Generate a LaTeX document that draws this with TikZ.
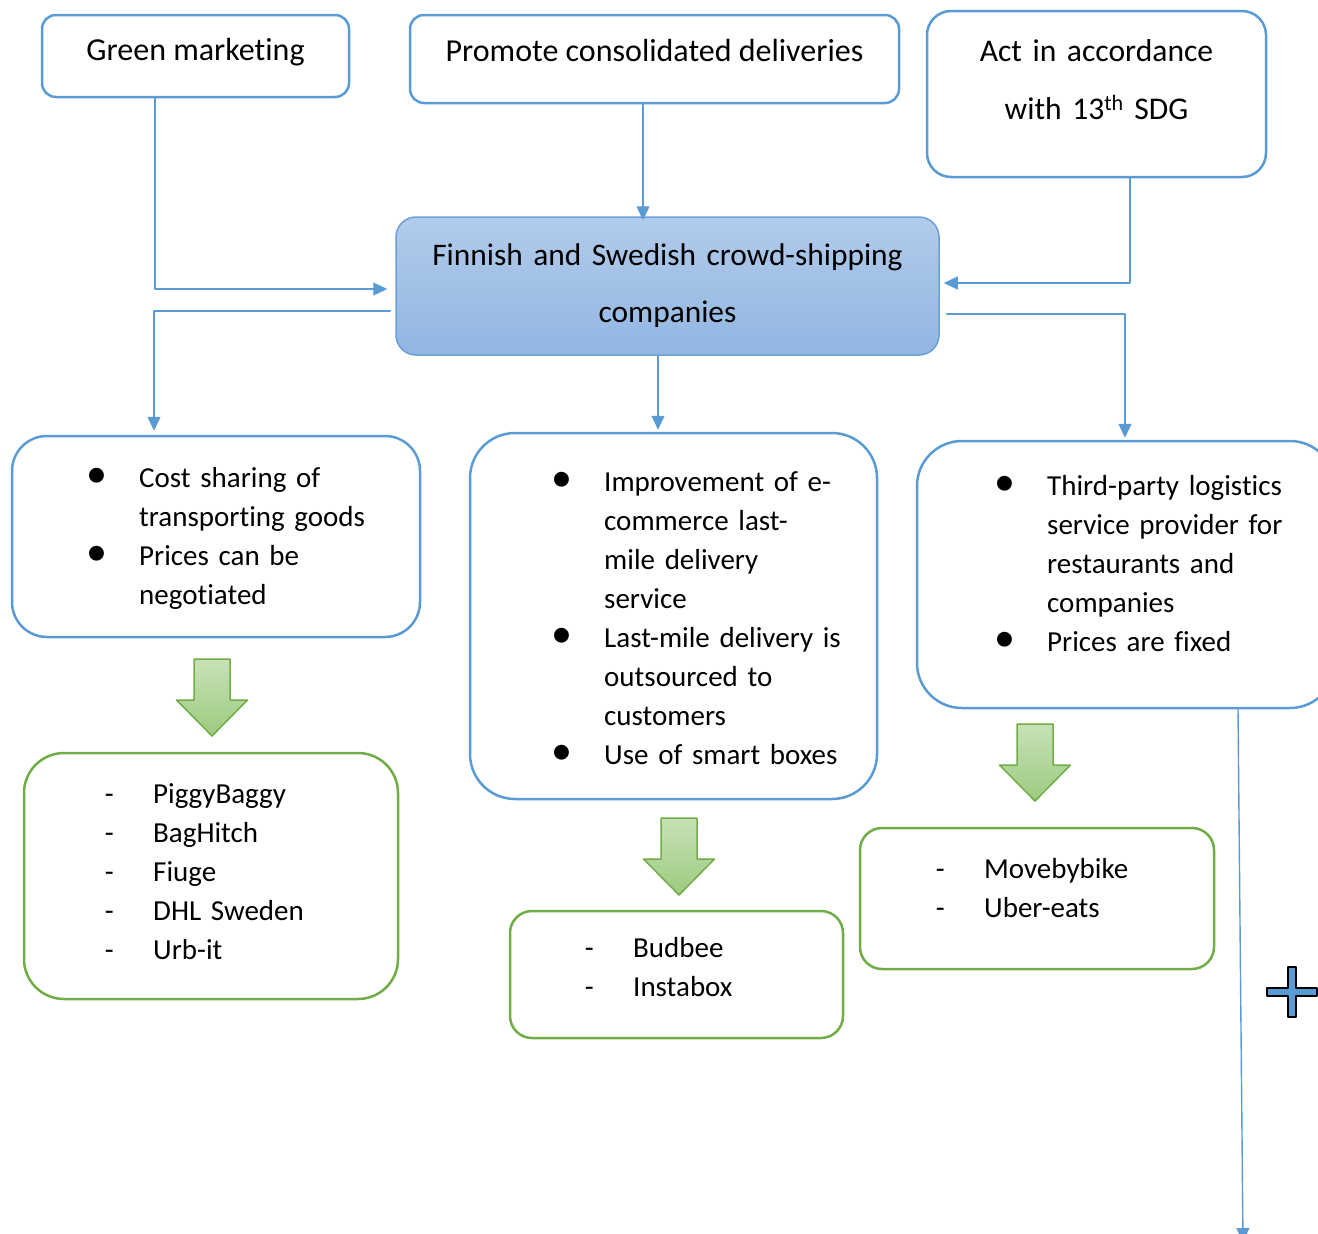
\documentclass[tikz,border=0pt]{standalone}
\usepackage{fontspec}
\setmainfont{Carlito}[Ligatures={TeX,NoCommon}]
\usetikzlibrary{calc,arrows.meta}
\setlength{\parindent}{0pt}
\definecolor{lblue}{RGB}{91,155,213}
\definecolor{hubline}{RGB}{106,159,216}
\definecolor{lgreen}{RGB}{112,173,71}
\definecolor{hubtop}{RGB}{177,203,235}
\definecolor{hubbot}{RGB}{146,182,226}
\definecolor{agtop}{RGB}{200,225,183}
\definecolor{agbot}{RGB}{157,203,127}
\newcommand{\bul}{\leavevmode\llap{\makebox[16pt][c]{\fontsize{42}{39}\selectfont\textbullet}\hspace{34pt}}}
\newcommand{\dsh}{\leavevmode\llap{\makebox[16pt][c]{-}\hspace{36pt}}}
\tikzset{
  goalbox/.style={draw=lblue,line width=2.5pt,rounded corners=14pt,inner sep=0pt},
  hubbox/.style={draw=hubline,line width=1.5pt,rounded corners=20pt,inner sep=0pt,top color=hubtop,bottom color=hubbot},
  featbox/.style={draw=lblue,line width=2.5pt,rounded corners=#1,inner sep=0pt},
  firmbox/.style={draw=lgreen,line width=2.5pt,rounded corners=#1,inner sep=0pt},
  link/.style={draw=lblue,line width=1.4pt,-{Triangle[length=14pt,width=13pt]}},
  blockarrow/.style={draw=lgreen,line width=1.5pt,top color=agtop,bottom color=agbot},
  headtext/.style={anchor=base,inner sep=0pt,font=\fontsize{32}{39}\selectfont},
  headblock/.style={anchor=north,inner sep=0pt,align=center,text width=#1},
  listtext/.style={anchor=north west,inner sep=0pt,align=left,text width=330pt,font=\fontsize{29}{39}\selectfont}
}
\begin{document}
\begin{tikzpicture}[x=1pt,y=-1pt,line cap=round,line join=round]
\useasboundingbox (0,0) rectangle (1318,1234);
\clip (0,0) rectangle (1318,1234);

% goals on top
\node[goalbox,minimum width=307,minimum height=82] (green) at (195.5,56) {};
\node[goalbox,minimum width=489,minimum height=88] (promote) at (654.5,59) {};
\node[goalbox,rounded corners=24pt,minimum width=339,minimum height=166] (sdg) at (1096.5,94) {};
\node[headtext] (txtgreen) at (195.5,60) {Green marketing};
\node[headtext] (txtpromote) at (654.5,61) {Promote consolidated deliveries};
\node[headblock=330pt,font=\fontsize{31.6}{58}\selectfont] (txtsdg) at (1096.5,20.4) {\strut Act in accordance\\ with 13\textsuperscript{th} SDG};

% crowd-shipping companies
\node[hubbox,minimum width=543,minimum height=138] (hub) at (667.5,286) {};
\node[headblock=530pt,font=\fontsize{31.4}{57}\selectfont] (txthub) at (667.5,225.1) {\strut Finnish and Swedish crowd-shipping\\ companies};

% features
\node[featbox=35pt,minimum width=408,minimum height=201] (cost) at (216,536.5) {};
\node[featbox=45pt,minimum width=407,minimum height=366] (lastmile) at (673.5,616) {};
\node[featbox=45pt,minimum width=418,minimum height=267] (thirdparty) at (1126,574.5) {};
\node[listtext] (txtcost) at (139,459.7) {\strut\bul Cost sharing of\\ transporting goods\\ \bul Prices can be\\ negotiated};
\node[listtext] (txtlastmile) at (604,463.7) {\strut\bul Improvement of e-\\ commerce last-\\ mile delivery\\ service\\ \bul Last-mile delivery is\\ outsourced to\\ customers\\ \bul Use of smart boxes};
\node[listtext] (txtthirdparty) at (1047,467.7) {\strut\bul Third-party logistics\\ service provider for\\ restaurants and\\ companies\\ \bul Prices are fixed};

% companies
\node[firmbox=40pt,minimum width=374,minimum height=246] (firmsa) at (211,876) {};
\node[firmbox=22pt,minimum width=333,minimum height=127] (firmsb) at (676.5,974.5) {};
\node[firmbox=22pt,minimum width=354,minimum height=141] (firmsc) at (1037,898.5) {};
\node[listtext] (txtfirmsa) at (153,775.7) {\strut\dsh PiggyBaggy\\ \dsh BagHitch\\ \dsh Fiuge\\ \dsh DHL Sweden\\ \dsh Urb-it};
\node[listtext] (txtfirmsb) at (633,929.7) {\strut\dsh Budbee\\ \dsh Instabox};
\node[listtext] (txtfirmsc) at (984,850.7) {\strut\dsh Movebybike\\ \dsh Uber-eats};

\foreach \cx/\cy in {212/659,679/818,1035/724}
  \draw[blockarrow] (\cx-18,\cy) -- (\cx+18,\cy) -- (\cx+18,\cy+41) -- (\cx+35.5,\cy+41) -- (\cx,\cy+77) -- (\cx-35.5,\cy+41) -- (\cx-18,\cy+41) -- cycle;

% connectors
\coordinate (exit) at (1243,1242);
\draw[link] ($(green.south)+(-40.5,0)$) |- ($(hub.west)+(-8,3)$);
\draw[link] ($(promote.south)+(-11.5,0)$) -- ($(hub.north)+(-24.5,4)$);
\draw[link] ($(sdg.south)+(33.5,0)$) |- ($(hub.east)+(4,-3)$);
\draw[link] ($(hub.west)+(-5,25)$) -| ($(cost.north)+(-62,-4)$);
\draw[link] ($(hub.south)+(-9.5,0)$) -- ($(lastmile.north)+(-15.5,-2)$);
\draw[link] ($(hub.east)+(7,28)$) -| ($(thirdparty.north)+(-1,-2)$);
\draw[link] ($(thirdparty.south)+(112,0)$) -- (exit);

% plus sign
\draw[fill=lblue,line width=2pt] (1288,967) -- (1296,967) -- (1296,988) -- (1317,988) -- (1317,996) -- (1296,996) -- (1296,1017) -- (1288,1017) -- (1288,996) -- (1267,996) -- (1267,988) -- (1288,988) -- cycle;
\end{tikzpicture}
\end{document}
